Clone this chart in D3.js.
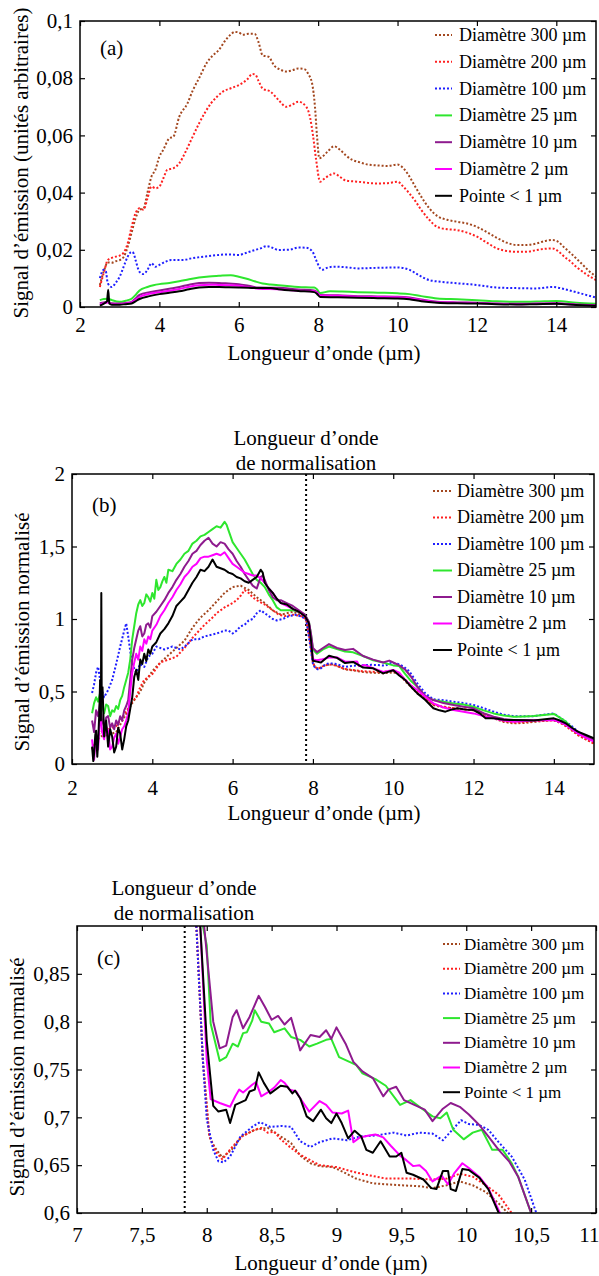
<!DOCTYPE html>
<html>
<head>
<meta charset="utf-8">
<script src="https://cdn.jsdelivr.net/npm/d3@7"></script>
<style>
  body { margin: 0; background: #fff; }
  svg { display: block; }
</style>
</head>
<body>
<div id="chart"></div>
<script>
//
// Emission spectra, three stacked panels (a) raw, (b) normalised, (c) zoom on 7-11 µm
//
const FONT = '"Liberation Serif", serif'

// series shared by the three panels
const seriesNames = ['Diamètre 300 µm', 'Diamètre 200 µm', 'Diamètre 100 µm', 'Diamètre 25 µm', 'Diamètre 10 µm', 'Diamètre 2 µm', 'Pointe < 1 µm']
const seriesColours = ['#a3471f', '#ff2020', '#1f1fff', '#2ee62e', '#8e1b8e', '#ff00ff', '#000000']
const seriesDotted = [true, true, true, false, false, false, false]

// tick values
const xTicksAB = [2, 4, 6, 8, 10, 12, 14]
const yTicksA = [0, 0.02, 0.04, 0.06, 0.08, 0.1]
const yTicksB = [0, 0.5, 1, 1.5, 2]
const xTicksC = [7, 7.5, 8, 8.5, 9, 9.5, 10, 10.5, 11]
const yTicksC = [0.6, 0.65, 0.7, 0.75, 0.8, 0.85]
const normWavelength = 7.83

// ---- panel (a) : raw signal [wavelength µm, signal]
const a300 = [[2.5,0.0077],[2.6,0.0125],[2.7,0.0156],[2.8,0.0155],[2.9,0.016],[3.0,0.0164],[3.1,0.0175],[3.2,0.021],[3.3,0.026],[3.4,0.031],[3.5,0.034],[3.6,0.0345],[3.7,0.04],[3.8,0.0456],[3.9,0.048],[4.0,0.0526],[4.1,0.055],[4.25,0.059],[4.35,0.0595],[4.5,0.0665],[4.7,0.071],[4.85,0.076],[5.0,0.08],[5.2,0.0855],[5.35,0.088],[5.5,0.0899],[5.65,0.093],[5.8,0.0953],[5.9,0.0962],[6.0,0.096],[6.1,0.0952],[6.25,0.0955],[6.4,0.0955],[6.5,0.0925],[6.6,0.088],[6.75,0.0875],[6.9,0.0843],[7.05,0.083],[7.2,0.0823],[7.35,0.0828],[7.5,0.0834],[7.65,0.0832],[7.75,0.0815],[7.85,0.078],[7.92,0.07],[7.97,0.06],[8.03,0.052],[8.1,0.0525],[8.25,0.0545],[8.4,0.0562],[8.55,0.055],[8.7,0.053],[8.85,0.0515],[9.0,0.0508],[9.25,0.0498],[9.5,0.0495],[9.75,0.0493],[10.0,0.0498],[10.15,0.0485],[10.3,0.0456],[10.45,0.042],[10.6,0.0385],[10.8,0.0345],[11.0,0.0318],[11.25,0.0305],[11.5,0.0298],[11.75,0.0292],[12.0,0.028],[12.25,0.0262],[12.5,0.0242],[12.75,0.0225],[13.0,0.0217],[13.25,0.0217],[13.5,0.0222],[13.75,0.0232],[13.9,0.0234],[14.05,0.0228],[14.2,0.0208],[14.35,0.019],[14.5,0.017],[14.65,0.015],[14.8,0.0129],[15.0,0.0106]]
const a200 = [[2.5,0.007],[2.6,0.012],[2.7,0.0164],[2.8,0.0172],[2.9,0.0176],[3.0,0.018],[3.1,0.019],[3.2,0.0222],[3.3,0.028],[3.4,0.0328],[3.5,0.0345],[3.6,0.034],[3.7,0.038],[3.8,0.0421],[3.9,0.0415],[4.0,0.0421],[4.1,0.045],[4.2,0.048],[4.35,0.0485],[4.5,0.0502],[4.65,0.054],[4.8,0.0584],[5.0,0.0642],[5.15,0.068],[5.3,0.0712],[5.45,0.0735],[5.6,0.0753],[5.8,0.0765],[6.0,0.0776],[6.2,0.0794],[6.35,0.0815],[6.42,0.0812],[6.5,0.079],[6.6,0.0764],[6.8,0.0753],[7.0,0.0724],[7.2,0.07],[7.35,0.0708],[7.5,0.0718],[7.7,0.07],[7.8,0.066],[7.87,0.06],[7.95,0.0514],[8.05,0.0438],[8.15,0.0448],[8.3,0.0462],[8.4,0.0467],[8.55,0.0455],[8.7,0.0442],[9.0,0.0438],[9.25,0.0434],[9.5,0.0432],[9.75,0.0433],[10.0,0.0438],[10.15,0.042],[10.3,0.0397],[10.45,0.037],[10.6,0.0339],[10.8,0.0305],[11.0,0.028],[11.25,0.0272],[11.5,0.0269],[11.75,0.026],[12.0,0.0246],[12.25,0.0225],[12.5,0.0205],[12.75,0.0196],[13.0,0.0193],[13.25,0.0193],[13.5,0.0199],[13.75,0.0204],[13.9,0.0205],[14.05,0.0195],[14.2,0.0176],[14.35,0.016],[14.5,0.0141],[14.75,0.0115],[15.0,0.0094]]
const a100 = [[2.5,0.0101],[2.6,0.013],[2.65,0.0125],[2.7,0.0083],[2.8,0.007],[2.9,0.0085],[3.0,0.0106],[3.1,0.0141],[3.2,0.0176],[3.3,0.0193],[3.35,0.0188],[3.4,0.0164],[3.5,0.0123],[3.6,0.0115],[3.7,0.013],[3.8,0.0153],[3.9,0.0141],[4.0,0.0147],[4.15,0.0158],[4.3,0.0164],[4.6,0.0164],[4.8,0.017],[5.0,0.0174],[5.25,0.0178],[5.5,0.0182],[5.75,0.0184],[6.0,0.0182],[6.2,0.019],[6.4,0.0199],[6.55,0.0205],[6.7,0.0213],[6.85,0.0207],[7.0,0.0199],[7.15,0.02],[7.3,0.0201],[7.5,0.0208],[7.7,0.0207],[7.85,0.0195],[7.95,0.0164],[8.05,0.0135],[8.1,0.013],[8.25,0.0138],[8.4,0.0141],[8.7,0.0139],[9.0,0.0135],[9.5,0.0137],[10.0,0.0138],[10.15,0.0136],[10.3,0.013],[10.55,0.011],[10.8,0.0094],[11.1,0.0088],[11.5,0.0083],[12.0,0.0077],[12.5,0.0068],[13.0,0.0066],[13.5,0.0065],[13.9,0.007],[14.1,0.0066],[14.3,0.0059],[14.6,0.0048],[15.0,0.0033]]
const a25 = [[2.5,0.0024],[2.6,0.0028],[2.7,0.0029],[2.8,0.0024],[3.0,0.0018],[3.15,0.0022],[3.3,0.0029],[3.4,0.0042],[3.5,0.0058],[3.7,0.007],[3.85,0.0076],[4.0,0.008],[4.25,0.0084],[4.5,0.009],[4.75,0.0097],[5.0,0.0103],[5.25,0.0107],[5.5,0.0109],[5.8,0.0111],[6.0,0.0106],[6.2,0.0099],[6.4,0.009],[6.6,0.0082],[6.8,0.0079],[7.0,0.0076],[7.5,0.007],[7.9,0.0068],[7.97,0.0062],[8.05,0.0049],[8.3,0.0055],[8.6,0.0054],[9.0,0.0052],[9.5,0.005],[10.0,0.0048],[10.3,0.0045],[10.6,0.0038],[11.0,0.003],[11.5,0.0027],[12.0,0.0024],[12.5,0.002],[13.0,0.0018],[13.5,0.0019],[14.0,0.0021],[14.5,0.0015],[15.0,0.0011]]
const a10 = [[2.5,0.0013],[2.6,0.0016],[2.7,0.0018],[2.8,0.0013],[3.0,0.0012],[3.15,0.0014],[3.3,0.0018],[3.4,0.003],[3.5,0.0042],[3.75,0.0052],[4.0,0.0058],[4.25,0.0064],[4.5,0.007],[4.75,0.0078],[5.0,0.0084],[5.25,0.0085],[5.5,0.0084],[5.75,0.0082],[6.0,0.008],[6.25,0.0074],[6.5,0.0068],[7.0,0.0067],[7.5,0.0061],[7.9,0.0058],[7.97,0.0052],[8.05,0.0042],[8.5,0.0041],[9.0,0.0038],[9.5,0.0037],[10.0,0.0036],[10.3,0.0033],[10.6,0.0026],[11.0,0.0018],[11.5,0.0016],[12.0,0.0015],[12.5,0.0012],[13.0,0.0011],[13.5,0.0012],[14.0,0.0013],[14.5,0.0009],[15.0,0.0006]]
const a2 = [[2.5,0.0009],[2.6,0.0013],[2.7,0.0016],[2.8,0.001],[3.0,0.001],[3.15,0.0012],[3.3,0.0016],[3.4,0.0025],[3.5,0.0035],[3.75,0.0046],[4.0,0.0052],[4.25,0.0057],[4.5,0.0063],[4.75,0.0071],[5.0,0.0076],[5.25,0.0078],[5.5,0.0077],[5.75,0.0076],[6.0,0.0074],[6.25,0.0069],[6.5,0.0064],[7.0,0.0062],[7.5,0.0057],[7.9,0.0055],[7.97,0.005],[8.05,0.004],[8.5,0.0039],[9.0,0.0036],[9.5,0.0035],[10.0,0.0034],[10.3,0.0031],[10.6,0.0024],[11.0,0.0017],[11.5,0.0015],[12.0,0.0014],[12.5,0.0011],[13.0,0.001],[13.5,0.0011],[14.0,0.0012],[14.5,0.0008],[15.0,0.0005]]
const a1 = [[2.5,0.0005],[2.6,0.0012],[2.68,0.002],[2.71,0.006],[2.74,0.0012],[2.8,0.0008],[3.0,0.0008],[3.15,0.001],[3.3,0.0012],[3.4,0.002],[3.5,0.0028],[3.75,0.0038],[4.0,0.0045],[4.25,0.005],[4.5,0.0055],[4.75,0.0062],[5.0,0.0068],[5.25,0.007],[5.5,0.007],[5.75,0.0069],[6.0,0.0068],[6.25,0.0067],[6.5,0.0066],[6.8,0.0066],[7.0,0.0062],[7.5,0.0056],[7.9,0.0052],[7.97,0.0046],[8.05,0.0035],[8.5,0.0034],[9.0,0.0032],[9.5,0.0031],[10.0,0.003],[10.3,0.0027],[10.6,0.002],[11.0,0.0015],[11.5,0.0013],[12.0,0.0012],[12.5,0.001],[13.0,0.0009],[13.5,0.001],[14.0,0.0011],[14.5,0.0007],[15.0,0.0004]]

// ---- panel (b) : normalised signal
const b300 = [[2.5,0.10],[2.7,0.19],[2.9,0.20],[3.1,0.22],[3.3,0.32],[3.5,0.42],[3.6,0.46],[3.7,0.50],[3.8,0.56],[3.9,0.60],[4.0,0.64],[4.2,0.70],[4.4,0.75],[4.6,0.80],[4.8,0.85],[5.0,0.94],[5.2,1.01],[5.4,1.06],[5.6,1.12],[5.8,1.18],[6.0,1.22],[6.2,1.23],[6.4,1.20],[6.6,1.15],[6.8,1.11],[7.0,1.06],[7.2,1.03],[7.35,1.04],[7.5,1.05],[7.7,1.03],[7.83,1.0],[7.92,0.88],[8.0,0.70],[8.05,0.67],[8.12,0.658],[8.2,0.666],[8.3,0.68],[8.45,0.689],[8.6,0.678],[8.8,0.652],[9.0,0.646],[9.25,0.634],[9.5,0.629],[9.75,0.626],[10.0,0.632],[10.15,0.62],[10.3,0.57],[10.45,0.53],[10.6,0.487],[10.8,0.453],[11.0,0.407],[11.25,0.39],[11.5,0.384],[11.75,0.378],[12.0,0.372],[12.25,0.34],[12.5,0.315],[12.75,0.29],[13.0,0.28],[13.25,0.283],[13.5,0.29],[13.75,0.297],[14.0,0.303],[14.15,0.29],[14.3,0.269],[14.45,0.235],[14.6,0.20],[14.8,0.17],[15.0,0.143]]
const b200 = [[2.5,0.10],[2.7,0.22],[2.9,0.24],[3.1,0.26],[3.3,0.34],[3.5,0.43],[3.6,0.46],[3.7,0.53],[3.8,0.58],[3.9,0.60],[4.0,0.62],[4.2,0.70],[4.4,0.72],[4.6,0.74],[4.8,0.80],[5.0,0.87],[5.1,0.90],[5.3,0.96],[5.5,1.01],[5.6,1.04],[5.8,1.08],[6.0,1.11],[6.1,1.13],[6.2,1.16],[6.3,1.20],[6.4,1.18],[6.5,1.15],[6.6,1.13],[6.8,1.10],[7.0,1.06],[7.15,1.03],[7.3,1.02],[7.5,1.03],[7.7,1.02],[7.83,1.0],[7.92,0.86],[8.0,0.70],[8.05,0.67],[8.12,0.656],[8.2,0.668],[8.3,0.68],[8.4,0.687],[8.5,0.684],[8.6,0.677],[8.7,0.665],[8.8,0.655],[9.0,0.648],[9.25,0.64],[9.5,0.636],[9.75,0.635],[9.95,0.641],[10.05,0.638],[10.15,0.62],[10.3,0.58],[10.45,0.54],[10.6,0.50],[10.8,0.45],[11.0,0.41],[11.25,0.395],[11.5,0.385],[11.75,0.378],[12.0,0.37],[12.25,0.345],[12.5,0.32],[12.75,0.295],[13.0,0.285],[13.25,0.288],[13.5,0.295],[13.75,0.298],[14.0,0.30],[14.15,0.285],[14.3,0.26],[14.45,0.23],[14.6,0.20],[14.8,0.17],[15.0,0.14]]
const b100 = [[2.5,0.49],[2.55,0.55],[2.6,0.63],[2.65,0.67],[2.7,0.58],[2.75,0.50],[2.8,0.46],[2.9,0.51],[3.0,0.58],[3.1,0.69],[3.2,0.81],[3.3,0.92],[3.35,0.97],[3.4,0.88],[3.45,0.78],[3.5,0.69],[3.6,0.63],[3.7,0.69],[3.8,0.67],[3.9,0.74],[4.0,0.76],[4.1,0.81],[4.2,0.80],[4.3,0.79],[4.5,0.81],[4.7,0.79],[4.85,0.82],[5.0,0.86],[5.15,0.86],[5.3,0.88],[5.45,0.89],[5.6,0.90],[5.8,0.92],[5.9,0.92],[6.0,0.90],[6.1,0.92],[6.2,0.95],[6.3,0.96],[6.4,0.99],[6.5,1.0],[6.6,1.04],[6.7,1.06],[6.8,1.04],[6.9,1.02],[7.0,1.0],[7.1,0.99],[7.25,1.0],[7.4,1.02],[7.6,1.03],[7.83,1.0],[7.92,0.84],[8.0,0.69],[8.05,0.666],[8.12,0.653],[8.2,0.66],[8.3,0.685],[8.4,0.695],[8.55,0.691],[8.7,0.68],[8.8,0.669],[9.0,0.678],[9.2,0.68],[9.45,0.684],[9.6,0.683],[9.8,0.678],[9.95,0.697],[10.1,0.692],[10.25,0.674],[10.4,0.64],[10.6,0.556],[10.8,0.487],[11.0,0.446],[11.25,0.44],[11.5,0.43],[11.75,0.42],[12.0,0.407],[12.25,0.385],[12.5,0.361],[12.75,0.34],[13.0,0.33],[13.5,0.33],[13.75,0.34],[14.0,0.349],[14.15,0.32],[14.3,0.292],[14.45,0.26],[14.6,0.223],[14.8,0.19],[15.0,0.165]]
const b25 = [[2.5,0.35],[2.55,0.42],[2.6,0.46],[2.65,0.43],[2.7,0.49],[2.75,0.40],[2.8,0.35],[2.85,0.41],[2.9,0.40],[2.95,0.33],[3.0,0.37],[3.05,0.36],[3.1,0.40],[3.15,0.38],[3.2,0.44],[3.25,0.47],[3.3,0.53],[3.35,0.58],[3.4,0.63],[3.45,0.72],[3.5,0.86],[3.55,0.95],[3.6,1.04],[3.65,1.10],[3.7,1.13],[3.75,1.09],[3.8,1.11],[3.85,1.17],[3.9,1.15],[3.95,1.12],[4.0,1.18],[4.05,1.14],[4.1,1.27],[4.15,1.20],[4.2,1.22],[4.25,1.26],[4.3,1.29],[4.35,1.25],[4.4,1.34],[4.5,1.33],[4.6,1.38],[4.7,1.41],[4.8,1.45],[4.9,1.47],[5.0,1.52],[5.1,1.54],[5.2,1.57],[5.3,1.58],[5.4,1.60],[5.5,1.62],[5.6,1.64],[5.7,1.63],[5.8,1.67],[5.85,1.65],[5.9,1.61],[6.0,1.53],[6.1,1.49],[6.2,1.45],[6.3,1.41],[6.4,1.36],[6.5,1.31],[6.6,1.27],[6.7,1.25],[6.8,1.22],[6.9,1.17],[7.0,1.13],[7.1,1.08],[7.2,1.06],[7.35,1.06],[7.5,1.06],[7.65,1.05],[7.8,1.03],[7.9,0.98],[7.95,0.90],[8.0,0.79],[8.1,0.76],[8.25,0.79],[8.4,0.81],[8.6,0.793],[8.8,0.776],[9.0,0.77],[9.25,0.745],[9.5,0.715],[9.75,0.70],[10.0,0.68],[10.15,0.675],[10.3,0.62],[10.45,0.57],[10.6,0.533],[10.8,0.464],[11.0,0.441],[11.25,0.43],[11.5,0.418],[11.75,0.41],[12.0,0.395],[12.25,0.37],[12.5,0.349],[12.75,0.335],[13.0,0.326],[13.25,0.328],[13.5,0.331],[13.75,0.338],[14.0,0.345],[14.15,0.32],[14.3,0.292],[14.45,0.25],[14.6,0.211],[14.8,0.19],[15.0,0.177]]
const b10 = [[2.5,0.30],[2.55,0.22],[2.6,0.37],[2.65,0.33],[2.7,0.42],[2.75,0.30],[2.8,0.26],[2.85,0.32],[2.9,0.33],[2.95,0.25],[3.0,0.28],[3.05,0.24],[3.1,0.30],[3.15,0.27],[3.2,0.33],[3.25,0.30],[3.3,0.37],[3.35,0.40],[3.4,0.44],[3.45,0.58],[3.5,0.72],[3.55,0.80],[3.6,0.86],[3.65,0.92],[3.7,0.95],[3.75,0.88],[3.8,0.90],[3.85,0.96],[3.9,0.97],[3.95,0.94],[4.0,1.02],[4.1,1.05],[4.2,1.09],[4.3,1.13],[4.4,1.18],[4.5,1.22],[4.6,1.27],[4.7,1.31],[4.8,1.36],[4.9,1.40],[5.0,1.45],[5.1,1.47],[5.2,1.51],[5.3,1.54],[5.4,1.56],[5.5,1.52],[5.6,1.50],[5.7,1.53],[5.8,1.52],[5.9,1.48],[6.0,1.45],[6.1,1.40],[6.2,1.36],[6.3,1.31],[6.4,1.27],[6.5,1.23],[6.6,1.21],[6.7,1.29],[6.75,1.30],[6.8,1.27],[6.9,1.20],[7.0,1.15],[7.1,1.13],[7.2,1.13],[7.35,1.11],[7.5,1.09],[7.65,1.06],[7.8,1.03],[7.9,0.98],[7.95,0.90],[8.0,0.80],[8.1,0.772],[8.25,0.80],[8.4,0.827],[8.6,0.80],[8.8,0.786],[9.0,0.794],[9.25,0.745],[9.5,0.72],[9.75,0.70],[9.9,0.713],[10.0,0.70],[10.15,0.68],[10.3,0.65],[10.45,0.60],[10.6,0.533],[10.8,0.47],[11.0,0.441],[11.25,0.42],[11.5,0.407],[11.75,0.395],[12.0,0.384],[12.25,0.35],[12.5,0.326],[12.75,0.31],[13.0,0.303],[13.5,0.303],[14.0,0.303],[14.15,0.29],[14.3,0.269],[14.45,0.24],[14.6,0.211],[14.8,0.19],[15.0,0.17]]
const b2 = [[2.5,0.17],[2.55,0.03],[2.6,0.21],[2.65,0.10],[2.7,0.35],[2.75,0.22],[2.8,0.17],[2.85,0.26],[2.9,0.23],[2.95,0.10],[3.0,0.12],[3.05,0.18],[3.1,0.21],[3.15,0.14],[3.2,0.19],[3.25,0.24],[3.3,0.26],[3.35,0.30],[3.4,0.35],[3.45,0.50],[3.5,0.63],[3.55,0.70],[3.6,0.76],[3.65,0.72],[3.7,0.81],[3.75,0.78],[3.8,0.86],[3.85,0.83],[3.9,0.88],[3.95,0.86],[4.0,0.92],[4.1,0.96],[4.2,1.02],[4.3,1.06],[4.4,1.11],[4.5,1.15],[4.6,1.20],[4.7,1.24],[4.8,1.29],[4.9,1.32],[5.0,1.36],[5.1,1.38],[5.2,1.42],[5.3,1.43],[5.4,1.43],[5.5,1.44],[5.6,1.45],[5.7,1.44],[5.8,1.46],[5.9,1.42],[6.0,1.38],[6.1,1.36],[6.2,1.34],[6.3,1.32],[6.4,1.31],[6.5,1.30],[6.6,1.30],[6.7,1.28],[6.8,1.25],[6.9,1.21],[7.0,1.18],[7.1,1.14],[7.2,1.11],[7.35,1.09],[7.5,1.07],[7.65,1.05],[7.8,1.02],[7.9,0.97],[7.95,0.86],[8.0,0.72],[8.1,0.715],[8.2,0.72],[8.4,0.735],[8.6,0.736],[8.8,0.706],[9.0,0.705],[9.1,0.707],[9.15,0.675],[9.3,0.682],[9.5,0.66],[9.75,0.635],[10.0,0.648],[10.15,0.63],[10.3,0.579],[10.45,0.54],[10.6,0.51],[10.8,0.464],[11.0,0.418],[11.25,0.39],[11.5,0.372],[11.75,0.36],[12.0,0.349],[12.25,0.33],[12.5,0.315],[12.75,0.30],[13.0,0.292],[13.5,0.30],[14.0,0.303],[14.15,0.29],[14.3,0.27],[14.45,0.24],[14.6,0.21],[14.8,0.18],[15.0,0.154]]
const b1 = [[2.5,0.12],[2.53,0.02],[2.55,0.07],[2.58,0.20],[2.6,0.23],[2.63,0.05],[2.65,0.15],[2.68,0.35],[2.7,0.58],[2.72,0.30],[2.73,1.18],[2.74,0.45],[2.76,0.53],[2.8,0.19],[2.85,0.30],[2.9,0.12],[2.95,0.24],[3.0,0.19],[3.05,0.08],[3.1,0.12],[3.15,0.25],[3.2,0.21],[3.25,0.10],[3.3,0.17],[3.35,0.26],[3.4,0.30],[3.45,0.38],[3.5,0.46],[3.55,0.60],[3.6,0.65],[3.65,0.58],[3.7,0.72],[3.75,0.69],[3.8,0.76],[3.85,0.71],[3.9,0.79],[3.95,0.76],[4.0,0.81],[4.1,0.84],[4.2,0.90],[4.3,0.93],[4.4,0.97],[4.5,1.02],[4.6,1.09],[4.7,1.12],[4.8,1.15],[4.9,1.20],[5.0,1.25],[5.1,1.29],[5.2,1.34],[5.3,1.33],[5.4,1.36],[5.5,1.41],[5.6,1.36],[5.7,1.35],[5.8,1.34],[5.9,1.32],[6.0,1.31],[6.1,1.29],[6.2,1.28],[6.3,1.26],[6.4,1.25],[6.5,1.27],[6.6,1.29],[6.7,1.34],[6.75,1.32],[6.8,1.25],[6.9,1.21],[7.0,1.18],[7.1,1.14],[7.2,1.11],[7.35,1.10],[7.5,1.07],[7.65,1.05],[7.8,1.02],[7.9,0.97],[7.95,0.86],[8.0,0.712],[8.1,0.706],[8.2,0.70],[8.4,0.747],[8.6,0.732],[8.8,0.696],[9.0,0.704],[9.25,0.665],[9.5,0.66],[9.75,0.625],[10.0,0.646],[10.15,0.61],[10.3,0.579],[10.45,0.53],[10.6,0.487],[10.8,0.441],[11.0,0.384],[11.15,0.37],[11.3,0.361],[11.45,0.375],[11.6,0.384],[11.8,0.375],[12.0,0.372],[12.15,0.35],[12.3,0.315],[12.5,0.315],[12.75,0.305],[13.0,0.303],[13.5,0.30],[14.0,0.315],[14.15,0.30],[14.3,0.28],[14.45,0.25],[14.6,0.223],[14.8,0.20],[15.0,0.177]]

// ---- panel (c) : normalised signal, 7-11 µm
const c300 = [[7.85,1.0],[7.92,0.9],[7.97,0.76],[8.02,0.68],[8.06,0.669],[8.12,0.658],[8.19,0.666],[8.27,0.68],[8.37,0.687],[8.47,0.689],[8.57,0.68],[8.65,0.673],[8.72,0.66],[8.8,0.652],[8.87,0.649],[8.97,0.648],[9.05,0.643],[9.15,0.636],[9.28,0.631],[9.49,0.629],[9.64,0.628],[9.74,0.626],[9.85,0.629],[9.95,0.633],[10.05,0.629],[10.15,0.622],[10.25,0.61],[10.32,0.6],[10.36,0.59]]
const c200 = [[7.85,1.0],[7.92,0.9],[7.97,0.76],[8.02,0.68],[8.07,0.664],[8.12,0.656],[8.19,0.668],[8.27,0.68],[8.37,0.687],[8.42,0.689],[8.47,0.684],[8.52,0.685],[8.57,0.677],[8.65,0.668],[8.72,0.661],[8.8,0.655],[8.87,0.65],[9.0,0.648],[9.13,0.643],[9.23,0.64],[9.38,0.636],[9.57,0.636],[9.74,0.635],[9.85,0.636],[9.95,0.641],[10.05,0.638],[10.15,0.629],[10.25,0.619],[10.35,0.6],[10.4,0.59]]
const c100 = [[7.85,1.0],[7.92,0.9],[7.97,0.76],[8.0,0.698],[8.05,0.666],[8.09,0.654],[8.13,0.653],[8.18,0.659],[8.26,0.68],[8.35,0.69],[8.41,0.695],[8.49,0.69],[8.58,0.691],[8.65,0.69],[8.72,0.675],[8.8,0.669],[8.87,0.674],[8.97,0.678],[9.08,0.676],[9.18,0.68],[9.3,0.681],[9.44,0.684],[9.54,0.681],[9.64,0.684],[9.74,0.683],[9.82,0.676],[9.9,0.688],[9.96,0.697],[10.02,0.693],[10.1,0.692],[10.17,0.687],[10.25,0.674],[10.35,0.659],[10.45,0.635],[10.54,0.6],[10.58,0.59]]
const c25 = [[7.9,1.0],[7.97,0.9],[8.0,0.88],[8.03,0.798],[8.1,0.759],[8.15,0.763],[8.2,0.777],[8.24,0.774],[8.28,0.788],[8.31,0.789],[8.35,0.801],[8.37,0.812],[8.42,0.8],[8.48,0.798],[8.52,0.789],[8.6,0.793],[8.65,0.784],[8.72,0.781],[8.79,0.774],[8.85,0.777],[8.92,0.781],[8.96,0.782],[9.02,0.763],[9.1,0.758],[9.15,0.755],[9.2,0.746],[9.3,0.74],[9.38,0.733],[9.49,0.713],[9.57,0.718],[9.67,0.708],[9.74,0.701],[9.8,0.699],[9.85,0.705],[9.9,0.687],[9.98,0.677],[10.05,0.684],[10.12,0.687],[10.2,0.666],[10.28,0.666],[10.35,0.652],[10.4,0.638],[10.5,0.6],[10.53,0.59]]
const c10 = [[7.92,1.0],[7.98,0.9],[8.05,0.8],[8.1,0.772],[8.15,0.775],[8.2,0.805],[8.23,0.812],[8.28,0.793],[8.33,0.805],[8.4,0.827],[8.45,0.815],[8.5,0.802],[8.55,0.806],[8.6,0.797],[8.65,0.804],[8.7,0.78],[8.72,0.77],[8.8,0.786],[8.87,0.784],[8.92,0.791],[8.96,0.782],[9.0,0.794],[9.07,0.777],[9.13,0.758],[9.2,0.748],[9.28,0.741],[9.36,0.722],[9.4,0.729],[9.46,0.732],[9.52,0.718],[9.6,0.713],[9.68,0.708],[9.74,0.696],[9.82,0.709],[9.88,0.715],[9.95,0.711],[10.02,0.703],[10.1,0.692],[10.17,0.68],[10.25,0.666],[10.33,0.654],[10.4,0.638],[10.5,0.6],[10.53,0.59]]
const c2 = [[7.9,1.0],[7.95,0.9],[8.0,0.76],[8.03,0.719],[8.1,0.715],[8.18,0.711],[8.22,0.722],[8.25,0.729],[8.28,0.726],[8.35,0.734],[8.38,0.737],[8.42,0.722],[8.47,0.726],[8.52,0.731],[8.57,0.739],[8.6,0.736],[8.64,0.729],[8.69,0.727],[8.72,0.72],[8.79,0.706],[8.87,0.717],[8.92,0.713],[8.97,0.705],[9.04,0.704],[9.09,0.707],[9.13,0.674],[9.18,0.679],[9.25,0.681],[9.3,0.682],[9.36,0.679],[9.42,0.67],[9.49,0.66],[9.54,0.655],[9.59,0.649],[9.64,0.65],[9.69,0.644],[9.74,0.633],[9.81,0.639],[9.86,0.63],[9.91,0.642],[9.97,0.652],[10.02,0.647],[10.1,0.638],[10.17,0.626],[10.26,0.6],[10.3,0.59]]
const c1 = [[7.9,1.0],[7.95,0.9],[8.0,0.78],[8.05,0.712],[8.09,0.706],[8.15,0.708],[8.18,0.694],[8.22,0.713],[8.3,0.718],[8.33,0.727],[8.37,0.729],[8.4,0.747],[8.44,0.736],[8.49,0.725],[8.57,0.733],[8.62,0.732],[8.66,0.725],[8.68,0.728],[8.72,0.72],[8.77,0.701],[8.82,0.696],[8.88,0.708],[8.92,0.699],[8.96,0.694],[9.0,0.704],[9.04,0.694],[9.09,0.678],[9.14,0.686],[9.19,0.68],[9.23,0.666],[9.28,0.663],[9.34,0.675],[9.41,0.659],[9.46,0.659],[9.5,0.663],[9.54,0.642],[9.59,0.64],[9.67,0.635],[9.73,0.626],[9.77,0.625],[9.82,0.644],[9.86,0.644],[9.88,0.625],[9.92,0.623],[9.97,0.646],[10.02,0.645],[10.1,0.637],[10.17,0.625],[10.25,0.6],[10.28,0.59]]

//
// Layout of each panel (pixel positions only)
//
const panels = [
  {
    id: 'a', data: [a300, a200, a100, a25, a10, a2, a1], curve: d3.curveMonotoneX,
    box: { left: 80, right: 596, top: 21, bottom: 307 },
    xDomain: [2, 15], yDomain: [0, 0.1], xTicks: xTicksAB, yTicks: yTicksA,
    xTickY: 25, xTitle: { x: 324, y: 360 },
    yTitle: { text: 'Signal d’émission (unités arbitraires)', x: 28, y: 163 },
    label: { text: '(a)', x: 100, y: 55 },
    legend: { x1: 435, x2: 452, tx: 459, y0: 35, dy: 26.8, size: 18 },
    norm: null
  },
  {
    id: 'b', data: [b300, b200, b100, b25, b10, b2, b1], curve: d3.curveLinear,
    box: { left: 72, right: 594, top: 474, bottom: 764 },
    xDomain: [2, 15], yDomain: [0, 2], xTicks: xTicksAB, yTicks: yTicksB,
    xTickY: 31, xTitle: { x: 324, y: 820 },
    yTitle: { text: 'Signal d’émission normalisé', x: 29, y: 632 },
    label: { text: '(b)', x: 92, y: 512 },
    legend: { x1: 433, x2: 452, tx: 457, y0: 491, dy: 26.5, size: 18 },
    norm: { x: 306, y1: 445, y2: 470 }
  },
  {
    id: 'c', data: [c300, c200, c100, c25, c10, c2, c1], curve: d3.curveLinear,
    box: { left: 77, right: 596, top: 926, bottom: 1213 },
    xDomain: [7, 11], yDomain: [0.6, 0.9], xTicks: xTicksC, yTicks: yTicksC,
    xTickY: 29, xTitle: { x: 331, y: 1270 },
    yTitle: { text: 'Signal d’émission normalisé', x: 24, y: 1077 },
    label: { text: '(c)', x: 97, y: 965 },
    legend: { x1: 443, x2: 460, tx: 464, y0: 944, dy: 24.7, size: 17 },
    norm: { x: 184, y1: 895, y2: 920 }
  }
]

const fmt = d => String(d).replace('.', ',')

const svg = d3.select('#chart')
  .append('svg')
  .attr('width', 599)
  .attr('height', 1276)

svg.append('rect').attr('width', 599).attr('height', 1276).attr('fill', '#fff')

panels.forEach(drawPanel)

// every text in the serif face, set on the element itself
svg.selectAll('text')
  .style('font-family', FONT)
  .attr('fill', '#000')

function drawPanel (p) {
  const b = p.box
  const x = d3.scaleLinear().domain(p.xDomain).range([b.left, b.right])
  const y = d3.scaleLinear().domain(p.yDomain).range([b.bottom, b.top])
  const g = svg.append('g')

  // clip region for the data lines
  g.append('clipPath').attr('id', 'clip-' + p.id)
    .append('rect')
    .attr('x', b.left).attr('y', b.top)
    .attr('width', b.right - b.left).attr('height', b.bottom - b.top)

  const line = d3.line()
    .x(d => x(d[0]))
    .y(d => y(d[1]))
    .curve(p.curve)

  const lines = g.append('g').attr('clip-path', 'url(#clip-' + p.id + ')')

  // normalisation wavelength marker
  if (p.norm) {
    lines.append('line')
      .attr('x1', x(normWavelength)).attr('x2', x(normWavelength))
      .attr('y1', b.top).attr('y2', b.bottom)
      .attr('stroke', '#000').attr('stroke-width', 2)
      .attr('stroke-dasharray', '2,3')
  }

  // dotted series first, solid ones on top
  p.data.forEach((series, i) => {
    lines.append('path')
      .datum(series)
      .attr('d', line)
      .attr('fill', 'none')
      .attr('stroke', seriesColours[i])
      .attr('stroke-width', 2)
      .attr('stroke-linejoin', 'round')
      .attr('stroke-dasharray', seriesDotted[i] ? '2,2' : null)
  })

  // axes: inward ticks on all four sides
  const tick = 5
  const bottom = g.append('g')
    .attr('transform', 'translate(0,' + b.bottom + ')')
    .call(d3.axisBottom(x).tickValues(p.xTicks).tickSize(-tick).tickFormat(fmt))
  bottom.selectAll('text').attr('y', p.xTickY).attr('dy', null)
  // last label sits on the window edge: keep it inside
  bottom.selectAll('.tick').filter(d => x(d) > 590)
    .select('text').attr('text-anchor', 'end').attr('x', 599 - x(p.xDomain[1]))
  g.append('g')
    .attr('transform', 'translate(0,' + b.top + ')')
    .call(d3.axisTop(x).tickValues(p.xTicks).tickSize(-tick).tickFormat(''))
  g.append('g')
    .attr('transform', 'translate(' + b.left + ',0)')
    .call(d3.axisLeft(y).tickValues(p.yTicks).tickSize(-tick).tickPadding(7).tickFormat(fmt))
  g.append('g')
    .attr('transform', 'translate(' + b.right + ',0)')
    .call(d3.axisRight(y).tickValues(p.yTicks).tickSize(-tick).tickFormat(''))

  g.selectAll('.domain').remove()
  g.selectAll('.tick line').attr('stroke', '#000').attr('stroke-width', 1.2)
  g.selectAll('.tick text').style('font-size', '21px')

  g.append('rect')
    .attr('x', b.left).attr('y', b.top)
    .attr('width', b.right - b.left).attr('height', b.bottom - b.top)
    .attr('fill', 'none').attr('stroke', '#000').attr('stroke-width', 1.5)

  // titles
  g.append('text')
    .attr('x', p.xTitle.x).attr('y', p.xTitle.y)
    .attr('text-anchor', 'middle')
    .style('font-size', '21px')
    .text('Longueur d’onde (µm)')

  g.append('text')
    .attr('transform', 'translate(' + p.yTitle.x + ',' + p.yTitle.y + ') rotate(-90)')
    .attr('text-anchor', 'middle')
    .style('font-size', '21px')
    .text(p.yTitle.text)

  g.append('text')
    .attr('x', p.label.x).attr('y', p.label.y)
    .style('font-size', '21px')
    .text(p.label.text)

  if (p.norm) {
    const note = g.append('text')
      .attr('text-anchor', 'middle')
      .style('font-size', '21px')
    note.append('tspan').attr('x', p.norm.x).attr('y', p.norm.y1).text('Longueur d’onde')
    note.append('tspan').attr('x', p.norm.x).attr('y', p.norm.y2).text('de normalisation')
  }

  // legend
  const lg = p.legend
  const rows = g.append('g').selectAll('g')
    .data(seriesNames)
    .enter().append('g')
    .attr('transform', (d, i) => 'translate(0,' + (lg.y0 + i * lg.dy) + ')')
  rows.append('line')
    .attr('x1', lg.x1).attr('x2', lg.x2)
    .attr('stroke', (d, i) => seriesColours[i])
    .attr('stroke-width', 2)
    .attr('stroke-dasharray', (d, i) => seriesDotted[i] ? '2,2' : null)
  rows.append('text')
    .attr('x', lg.tx)
    .attr('dy', '0.33em')
    .style('font-size', lg.size + 'px')
    .text(d => d)
}
</script>
</body>
</html>
